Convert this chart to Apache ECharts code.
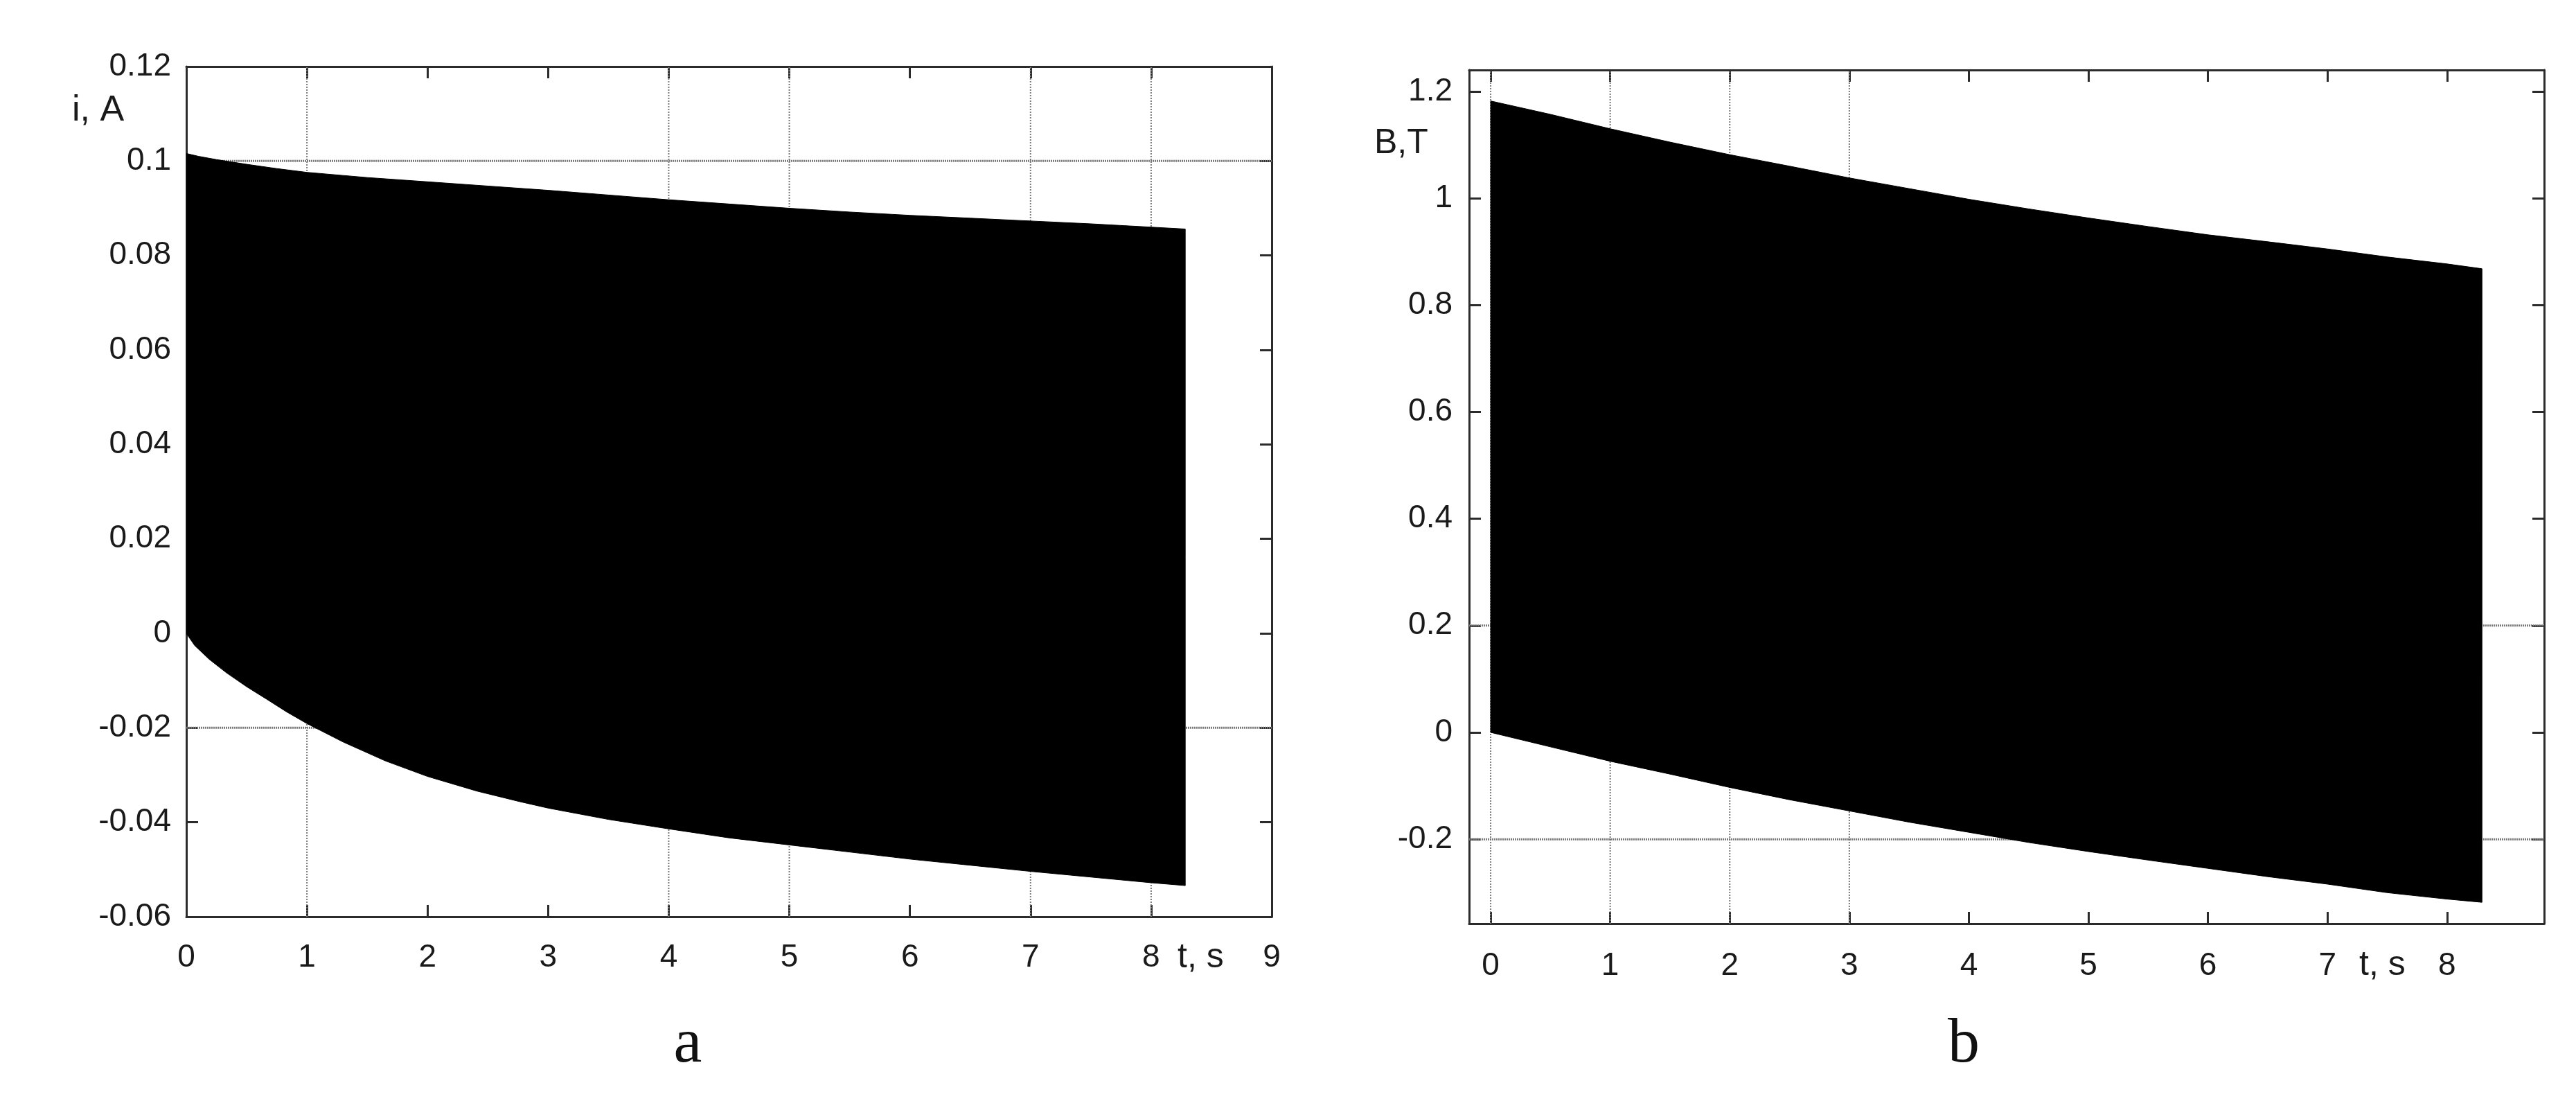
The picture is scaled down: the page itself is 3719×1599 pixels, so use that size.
<!DOCTYPE html>
<html>
<head>
<meta charset="utf-8">
<script src="https://cdn.jsdelivr.net/npm/echarts@6/dist/echarts.min.js"></script>
<style>
html,body{margin:0;padding:0;background:#fff;}
#chart{position:absolute;left:0;top:0;width:3719px;height:1599px;}
</style>
</head>
<body>
<div id="chart"></div>
<script>
// ---------- Panel a: current i (A) envelope of the dense oscillation ----------
const tUpperA = [0, 0.1, 0.25, 0.5, 0.75, 1, 1.5, 2, 2.5, 3, 3.5, 4, 4.5, 5, 5.5, 6, 6.5, 7, 7.5, 8, 8.283];
const iUpperA = [0.1016, 0.1010, 0.1003, 0.0993, 0.0984, 0.0976, 0.0965, 0.0956, 0.0947, 0.0938, 0.0928, 0.0918, 0.0909, 0.0900, 0.0892, 0.0885, 0.0879, 0.0873, 0.0867, 0.0860, 0.0856];
const tLowerA = [0, 0.07, 0.19, 0.33, 0.5, 0.67, 0.83, 1.0, 1.3, 1.65, 2.0, 2.41, 2.76, 3.0, 3.5, 4, 4.5, 5, 5.5, 6, 6.5, 7, 7.5, 8, 8.283];
const iLowerA = [0, -0.0026, -0.0055, -0.0083, -0.0113, -0.0140, -0.0166, -0.0191, -0.0230, -0.0270, -0.0303, -0.0334, -0.0356, -0.0370, -0.0394, -0.0414, -0.0433, -0.0448, -0.0463, -0.0478, -0.0491, -0.0504, -0.0516, -0.0528, -0.0534];

// ---------- Panel b: flux density B (T) envelope ----------
const tB = [0, 0.5, 1, 1.5, 2, 2.5, 3, 3.5, 4, 4.5, 5, 5.5, 6, 6.5, 7, 7.5, 8, 8.292];
const bUpper = [1.182, 1.157, 1.130, 1.105, 1.0815, 1.060, 1.038, 1.018, 0.998, 0.980, 0.963, 0.947, 0.9315, 0.9185, 0.905, 0.890, 0.877, 0.868];
const bLower = [0, -0.027, -0.054, -0.078, -0.103, -0.126, -0.147, -0.168, -0.187, -0.206, -0.223, -0.239, -0.2545, -0.270, -0.284, -0.300, -0.312, -0.318];

// ---------- Tick labels / grid lines ----------
const xTicksA = [0, 1, 2, 3, 4, 5, 6, 7, 8, 9];
const yTicksA = [-0.06, -0.04, -0.02, 0, 0.02, 0.04, 0.06, 0.08, 0.1, 0.12];
const xTicksB = [0, 1, 2, 3, 4, 5, 6, 7, 8];
const yTicksB = [-0.2, 0, 0.2, 0.4, 0.6, 0.8, 1, 1.2];
const gridXA = [1, 4, 5, 7, 8];
const gridYA = [0.1, -0.02];
const gridXB = [0, 1, 2, 3];
const gridYB = [0.2, -0.2];

const rangeA = {xMin: 0, xMax: 9, yMin: -0.06, yMax: 0.12};
const rangeB = {xMin: -0.18, xMax: 8.812, yMin: -0.358, yMax: 1.24};

const FONT = 'Liberation Sans, Arial, sans-serif';
const SERIF = 'Liberation Serif, Times New Roman, serif';
const AXC = '#2b2b2b';
const GRIDC = '#7a7a7a';

function baseAxis(extra) {
  return Object.assign({
    type: 'value',
    axisLine: {show: true, onZero: false, lineStyle: {color: AXC, width: 3}},
    axisTick: {show: true, inside: true, length: 17, lineStyle: {color: AXC, width: 3}},
    splitLine: {show: false},
    axisLabel: {show: false}
  }, extra);
}
function labelStyle(margin, custom) {
  const o = {show: true, margin: margin, fontSize: 46, fontFamily: FONT, color: '#1a1a1a'};
  if (custom) o.customValues = custom;
  return o;
}

function bandSeries(xi, yi, tU, vU, tL, vL) {
  return {
    type: 'custom', xAxisIndex: xi, yAxisIndex: yi, z: 5, silent: true,
    clip: true,
    data: [[tU[0], vU[0]]],
    renderItem: function (params, api) {
      const pts = [];
      for (let i = 0; i < tU.length; i++) pts.push(api.coord([tU[i], vU[i]]));
      for (let i = tL.length - 1; i >= 0; i--) pts.push(api.coord([tL[i], vL[i]]));
      return {type: 'polygon', shape: {points: pts}, style: {fill: '#000', stroke: '#000', lineWidth: 1}};
    }
  };
}
function gridLineSeries(xi, yi, xs, ys, r) {
  const out = [];
  xs.forEach(function (x) {
    out.push({type: 'line', xAxisIndex: xi, yAxisIndex: yi, z: 1, silent: true, symbol: 'none',
      data: [[x, r.yMin], [x, r.yMax]], lineStyle: {color: GRIDC, width: 2, type: [2, 2]}});
  });
  ys.forEach(function (y) {
    out.push({type: 'line', xAxisIndex: xi, yAxisIndex: yi, z: 1, silent: true, symbol: 'none',
      data: [[r.xMin, y], [r.xMax, y]], lineStyle: {color: GRIDC, width: 3, type: [2, 1]}});
  });
  return out;
}

const chart = echarts.init(document.getElementById('chart'), null, {renderer: 'canvas'});
const option = {
  backgroundColor: '#fff',
  animation: false,
  grid: [
    {left: 269, top: 96, width: 1567, height: 1227},
    {left: 2121, top: 101, width: 1552, height: 1232}
  ],
  xAxis: [
    baseAxis({gridIndex: 0, position: 'bottom', min: rangeA.xMin, max: rangeA.xMax, interval: 1,
      axisLabel: labelStyle(36)}),
    baseAxis({gridIndex: 0, position: 'top', min: rangeA.xMin, max: rangeA.xMax, interval: 1}),
    baseAxis({gridIndex: 1, position: 'bottom', min: rangeB.xMin, max: rangeB.xMax,
      axisTick: {show: true, inside: true, length: 17, customValues: xTicksB, lineStyle: {color: AXC, width: 3}},
      axisLabel: labelStyle(38, xTicksB)}),
    baseAxis({gridIndex: 1, position: 'top', min: rangeB.xMin, max: rangeB.xMax,
      axisTick: {show: true, inside: true, length: 17, customValues: xTicksB, lineStyle: {color: AXC, width: 3}}})
  ],
  yAxis: [
    baseAxis({gridIndex: 0, position: 'left', min: rangeA.yMin, max: rangeA.yMax, interval: 0.02,
      axisLabel: Object.assign(labelStyle(22), {formatter: function (v) { return String(+(+v).toFixed(2)); }})}),
    baseAxis({gridIndex: 0, position: 'right', min: rangeA.yMin, max: rangeA.yMax, interval: 0.02}),
    baseAxis({gridIndex: 1, position: 'left', min: rangeB.yMin, max: rangeB.yMax,
      axisTick: {show: true, inside: true, length: 17, customValues: yTicksB, lineStyle: {color: AXC, width: 3}},
      axisLabel: Object.assign(labelStyle(24, yTicksB), {formatter: function (v) { return String(+(+v).toFixed(2)); }})}),
    baseAxis({gridIndex: 1, position: 'right', min: rangeB.yMin, max: rangeB.yMax,
      axisTick: {show: true, inside: true, length: 17, customValues: yTicksB, lineStyle: {color: AXC, width: 3}}})
  ],
  series: [].concat(
    gridLineSeries(0, 0, gridXA, gridYA, rangeA),
    gridLineSeries(2, 2, gridXB, gridYB, rangeB),
    [bandSeries(0, 0, tUpperA, iUpperA, tLowerA, iLowerA),
     bandSeries(2, 2, tB, bUpper, tB, bLower)]
  ),
  graphic: [
    {type: 'text', left: 104, top: 134, style: {text: 'i, A', fontSize: 52, fontFamily: FONT, fill: '#1a1a1a'}},
    {type: 'text', left: 1984, top: 182, style: {text: 'B,T', fontSize: 50, fontFamily: FONT, fill: '#1a1a1a'}},
    {type: 'text', left: 1700, top: 1357, style: {text: 't, s', fontSize: 50, fontFamily: FONT, fill: '#1a1a1a'}},
    {type: 'text', left: 3406, top: 1368, style: {text: 't, s', fontSize: 50, fontFamily: FONT, fill: '#1a1a1a'}},
    {type: 'text', x: 993, y: 1508, style: {text: 'a', fontSize: 92, fontFamily: SERIF, fill: '#111', align: 'center', verticalAlign: 'middle'}},
    {type: 'text', x: 2835, y: 1508, style: {text: 'b', fontSize: 92, fontFamily: SERIF, fill: '#111', align: 'center', verticalAlign: 'middle'}}
  ]
};
chart.setOption(option);
</script>
</body>
</html>
